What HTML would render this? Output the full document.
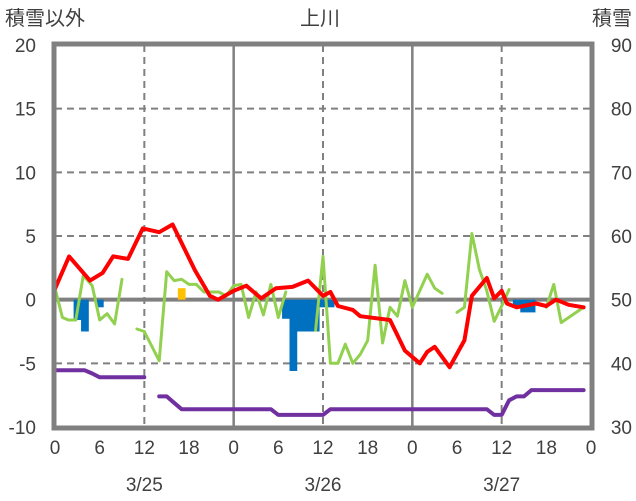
<!DOCTYPE html>
<html><head><meta charset="utf-8">
<style>
html,body{margin:0;padding:0;background:#fff;}
svg{display:block;font-family:"Liberation Sans","Noto Sans CJK JP",sans-serif;}
</style></head>
<body>
<svg id="chart" width="636" height="501" viewBox="0 0 636 501">
<text x="5" y="25" font-size="20" fill="#404040">積雪以外</text>
<text x="320" y="25" font-size="20" fill="#404040" text-anchor="middle">上川</text>
<text x="632" y="25" font-size="20" fill="#404040" text-anchor="end">積雪</text>
<g id="grid"></g><g id="bars"></g><g id="lines"></g><g id="frame"></g><g id="labels"></g>
</svg>
<script>
const leftTicks=[20,15,10,5,0,-5,-10];
const rightTicks=[90,80,70,60,50,40,30];
const hourTickLabels=["0","6","12","18","0","6","12","18","0","6","12","18","0"];
const dateLabels=["3/25","3/26","3/27"];
const redHours=[0,1.9,4.7,6.4,7.8,9.8,11.8,14,15.8,18.8,20.8,21.9,24,25.7,27.7,29.7,31.9,34,36,37,38,40,41,45,47,49,50,51,53,55,56,58,59,60,60.7,62,64.6,66,67.3,69,71];
const redVals=[0.85,3.4,1.5,2.1,3.4,3.2,5.6,5.3,5.9,2.3,0.3,0,0.7,1.1,0.1,0.9,1,1.5,0.3,0.6,-0.5,-0.8,-1.3,-1.6,-4,-5,-4.1,-3.7,-5.3,-3.2,0.3,1.7,0.1,0.7,-0.3,-0.6,-0.3,-0.5,0,-0.4,-0.6];
const greenHours=[0,1,1.8,2.8,3.8,5,6,7,8,9,null,11,12,14,15,16,17,18,19,20,22,23,24,25,26,27,28,29,30,31,null,35,36,37,38,39,40,41,42,43,44,45,46,47,48,50,51,52,null,54,55,56,57,58,59,60,61,null,66,67,68,71];
const greenVals=[0.9,-1.4,-1.6,-1.6,1.9,1.1,-1.6,-1.1,-1.9,1.6,null,-2.3,-2.5,-4.8,2.2,1.5,1.6,1.2,1.2,0.6,0.6,0.3,1.1,1.2,-1.4,0.6,-1.2,1.2,-1.4,0.6,null,-2.4,3.4,-5,-5,-3.5,-5,-4.3,-3.2,2.7,-3.4,-0.6,-1.3,1.5,-0.6,2,0.9,0.5,null,-1,-0.6,5.2,2.4,0.7,-1.7,-0.5,0.8,null,-0.6,1.2,-1.8,-0.6];
const barHours=[3,4,6,17,31,32,33,34,35,36,37,62,63,64];
const barVals=[-1.6,-2.5,-0.6,0.9,-1.5,-5.6,-2.5,-2.5,-2.5,-0.6,-0.6,-0.6,-1,-1];
const snowHours=[0,4,5,6,12,null,14,15,16,17,29,30,36,37,58,59,60,61,62,63,64,71];
const snowVals=[38.9,38.9,38.4,37.8,37.8,null,34.8,34.8,33.8,32.8,32.8,31.9,31.9,32.8,32.8,31.9,31.9,34.2,34.8,34.8,35.8,35.8];

const X0=55,X1=591,YT=45,YB=427;
const xs=h=>X0+h*(X1-X0)/72;
const yl=v=>YB-(v+10)*(YB-YT)/30;
const yr=v=>YB-(v-30)*(YB-YT)/60;
const NS="http://www.w3.org/2000/svg";
function mk(tag,attrs,parent){const e=document.createElementNS(NS,tag);for(const k in attrs)e.setAttribute(k,attrs[k]);document.getElementById(parent).appendChild(e);return e;}

leftTicks.forEach(v=>{
  if(v!==20&&v!==-10&&v!==0){const l=mk('line',{x1:X0,x2:X1,y1:yl(v),y2:yl(v),stroke:'#808080','stroke-width':2,'stroke-dasharray':'7,5'},'grid');
  
  }
  const t=mk('text',{x:36,y:yl(v)+7,'font-size':19,fill:'#404040','text-anchor':'end'},'labels');t.textContent=v;
  
  
});
rightTicks.forEach(v=>{
  const t=mk('text',{x:632,y:yr(v)+7,'font-size':19,fill:'#404040','text-anchor':'end'},'labels');t.textContent=v;
  
  
});
hourTickLabels.forEach((s,i)=>{
  const h=i*6;
  if(i>0&&i<12&&i%2===0){const l=mk('line',{x1:xs(h),x2:xs(h),y1:YT,y2:YB,stroke:'#808080','stroke-width':i%4===0?2.5:2,'stroke-dasharray':i%4===0?'none':'7,5'},'grid');
  
  }
  const t=mk('text',{x:xs(h),y:454,'font-size':19,fill:'#404040','text-anchor':'middle'},'labels');t.textContent=s;
  
  
});
dateLabels.forEach((s,i)=>{
  const t=mk('text',{x:xs(12+24*i),y:491,'font-size':19,fill:'#404040','text-anchor':'middle'},'labels');t.textContent=s;
  
  
});
const z=mk('line',{x1:X0,x2:X1,y1:yl(0),y2:yl(0),stroke:'#808080','stroke-width':4},'grid');



barHours.forEach((h,i)=>{
  const v=barVals[i];const w=(X1-X0)/72;
  const r=mk('rect',{x:xs(h)-w/2,width:w+0.3,y:Math.min(yl(0),yl(v)),height:Math.abs(yl(v)-yl(0)),fill:v>0?'#ffc000':'#0070c0'},'bars');
  
  
});

function seg(hours,vals,yf,color,w,name){
  let d='',pen=false;
  hours.forEach((h,i)=>{
    if(h===null||vals[i]===null){pen=false;return;}
    d+=(pen?'L':'M')+xs(h).toFixed(1)+','+yf(vals[i]).toFixed(1);pen=true;
  });
  const p=mk('path',{d:d,fill:'none',stroke:color,'stroke-width':w,'stroke-linejoin':'round','stroke-linecap':'round'},'lines');
  
  
}
seg(greenHours,greenVals,yl,'#92d050',3,'green-series-line');
seg(snowHours,snowVals,yr,'#7030a0',4,'snow-depth-line');
seg(redHours,redVals,yl,'#ff0000',4,'temperature-line');

const f=mk('rect',{x:X0-1,y:YT-1,width:X1-X0+2,height:YB-YT+2,fill:'none',stroke:'#808080','stroke-width':5},'frame');


</script>
</body></html>
